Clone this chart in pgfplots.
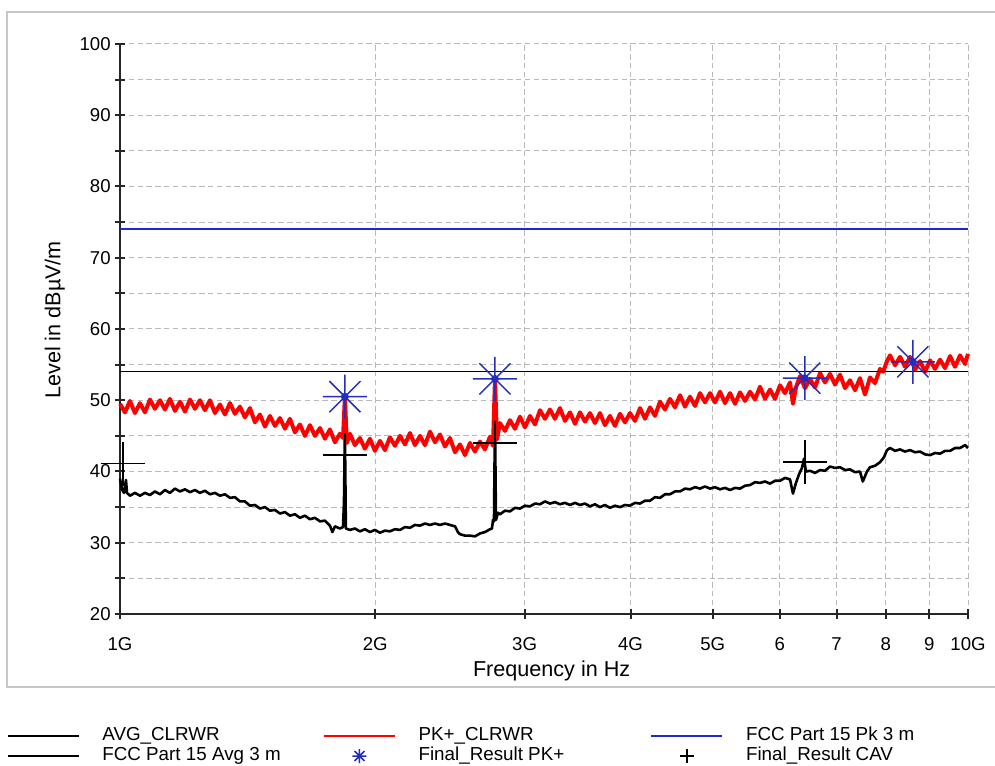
\documentclass[border=0pt]{standalone}
\usepackage{fontspec}
\setmainfont{Liberation Sans}
\usepackage{pgfplots}
\pgfplotsset{compat=1.18}
\definecolor{limblue}{RGB}{30,40,210}
\definecolor{mkblue}{RGB}{35,45,190}
\definecolor{gridgray}{RGB}{185,185,185}
\pgfdeclareplotmark{star8}{%
  \pgfpathmoveto{\pgfqpoint{0pt}{\pgfplotmarksize}}%
  \pgfpathlineto{\pgfqpoint{0pt}{-\pgfplotmarksize}}%
  \pgfpathmoveto{\pgfqpoint{\pgfplotmarksize}{0pt}}%
  \pgfpathlineto{\pgfqpoint{-\pgfplotmarksize}{0pt}}%
  \pgfpathmoveto{\pgfqpoint{0.7071\pgfplotmarksize}{0.7071\pgfplotmarksize}}%
  \pgfpathlineto{\pgfqpoint{-0.7071\pgfplotmarksize}{-0.7071\pgfplotmarksize}}%
  \pgfpathmoveto{\pgfqpoint{-0.7071\pgfplotmarksize}{0.7071\pgfplotmarksize}}%
  \pgfpathlineto{\pgfqpoint{0.7071\pgfplotmarksize}{-0.7071\pgfplotmarksize}}%
  \pgfusepathqstroke
  \pgfpathcircle{\pgfpointorigin}{0.18\pgfplotmarksize}%
  \pgfusepathqfill
}
\begin{document}
\begin{tikzpicture}[x=1pt,y=1pt]
\useasboundingbox (0,0) rectangle (497.5,382.5);
\draw[gray!45, line width=0.8pt] (500,39) -- (3.5,39) -- (3.5,376.5) -- (500,376.5);
\begin{axis}[
  at={(60pt,75.5pt)}, anchor=south west,
  scale only axis, width=424pt, height=285pt,
  xmode=log, log basis x=10,
  xmin=1, xmax=10, ymin=20, ymax=100,
  clip=false,
  xtick={1,2,3,4,5,6,7,8,9,10},
  xticklabels={1G,2G,3G,4G,5G,6,7,8,9,10G},
  minor xtick={},
  ytick={20,30,...,100},
  minor ytick={25,35,...,95},
  axis x line=bottom, axis y line=left,
  axis line style={-, line width=1pt, black!85},
  tick align=center, major tick length=5pt, minor tick length=5pt,
  every tick/.style={line width=1pt, black!85},
  grid=both,
  major grid style={dash pattern=on 2.7pt off 1.7pt, gridgray, line width=0.5pt},
  minor grid style={dash pattern=on 2.7pt off 1.7pt, gridgray, line width=0.5pt},
  /pgf/number format/assume math mode=true,
  ticklabel style={font=\fontsize{9.3}{11}\selectfont},
  yticklabel style={inner sep=0pt, xshift=-2pt},
  xticklabel style={inner sep=0pt, anchor=north, yshift=-9pt},
  xlabel={Frequency in Hz},
  ylabel={Level in dBµV/m},
  label style={font=\fontsize{10.8}{12}\selectfont},
  xlabel style={at={(axis description cs:0.509,-0.1)}, anchor=center},
  ylabel style={at={(axis description cs:-0.077,0.516)}, anchor=center},
  legend columns=3,
  legend cell align=left,
  legend style={at={(axis description cs:-0.1333,-0.1965)}, anchor=north west,
    draw=none, fill=none, inner sep=0pt, outer sep=0pt,
    font=\fontsize{9.4}{10}\selectfont,
    nodes={inner sep=0pt, text height=7pt, text depth=3pt},
    column sep=0pt, row sep=0pt,
    /tikz/every odd column/.append style={column sep=11.5pt}},
  legend image code/.code={\draw[mark repeat=2,mark phase=2,#1] plot coordinates {(0pt,0pt) (17.75pt,0pt) (35.5pt,0pt)};},
]
% AVG_CLRWR
\addplot[black, line width=1.3pt, line join=round, legend image post style={line width=0.6pt}] coordinates {
(1.0000,39.0) (1.0054,37.5) (1.0109,37.0) (1.0164,38.8) (1.0192,37.0)
(1.0275,36.6) (1.0415,37.0) (1.0558,36.6) (1.0702,37.0) (1.0848,36.7)
(1.0996,37.2) (1.1147,36.8) (1.1299,37.4) (1.1453,37.0) (1.1610,37.6)
(1.1769,37.2) (1.1930,37.5) (1.2093,37.1) (1.2258,37.4) (1.2425,37.0)
(1.2595,37.3) (1.2767,36.8) (1.2941,37.0) (1.3119,36.6) (1.3298,36.8)
(1.3480,36.3) (1.3664,36.4) (1.3851,35.8) (1.4040,35.8) (1.4232,35.2)
(1.4427,35.3) (1.4624,34.8) (1.4824,35.0) (1.5026,34.5) (1.5231,34.6)
(1.5440,34.1) (1.5651,34.3) (1.5865,33.8) (1.6082,34.0) (1.6302,33.5)
(1.6525,33.8) (1.6750,33.3) (1.6979,33.5) (1.7212,33.0) (1.7447,33.1)
(1.7685,32.4) (1.7805,31.5) (1.7927,32.3) (1.8172,32.0) (1.8325,32.2)
(1.8372,35.7) (1.8420,46.0) (1.8468,32.0) (1.8672,31.8) (1.8927,32.0)
(1.9186,31.6) (1.9448,31.9) (1.9715,31.5) (1.9984,31.8) (2.0257,31.4)
(2.0534,31.7) (2.0815,31.6) (2.1099,31.9) (2.1388,31.8) (2.1680,32.2)
(2.1977,32.1) (2.2277,32.5) (2.2582,32.4) (2.2891,32.7) (2.3204,32.5)
(2.3521,32.7) (2.3842,32.5) (2.4168,32.7) (2.4499,32.5) (2.4834,32.3)
(2.5031,31.5) (2.5173,31.2) (2.5517,31.0) (2.5866,31.0) (2.6219,30.9)
(2.6578,31.3) (2.6941,31.5) (2.7310,31.9) (2.7459,32.0) (2.7533,33.2)
(2.7608,33.0) (2.7683,47.5) (2.7758,33.2) (2.7910,34.2) (2.8062,34.0)
(2.8446,34.5) (2.8834,34.4) (2.9228,34.9) (2.9628,34.8) (3.0033,35.2)
(3.0444,35.1) (3.0860,35.5) (3.1282,35.4) (3.1710,35.8) (3.2143,35.5)
(3.2582,35.7) (3.3028,35.4) (3.3479,35.6) (3.3937,35.3) (3.4401,35.6)
(3.4871,35.3) (3.5348,35.5) (3.5831,35.1) (3.6321,35.4) (3.6818,35.0)
(3.7321,35.3) (3.7831,34.9) (3.8348,35.2) (3.8873,35.0) (3.9404,35.3)
(3.9943,35.2) (4.0489,35.6) (4.1042,35.5) (4.1603,35.9) (4.2172,35.9)
(4.2748,36.4) (4.3333,36.3) (4.3925,36.8) (4.4526,36.8) (4.5135,37.2)
(4.5752,37.2) (4.6377,37.6) (4.7011,37.5) (4.7654,37.8) (4.8305,37.6)
(4.8965,37.9) (4.9635,37.6) (5.0313,37.8) (5.1001,37.5) (5.1698,37.7)
(5.2405,37.4) (5.3121,37.7) (5.3848,37.6) (5.4584,38.0) (5.5330,38.1)
(5.6086,38.5) (5.6853,38.4) (5.7630,38.6) (5.8418,38.3) (5.9216,38.7)
(6.0026,38.7) (6.0846,39.1) (6.1679,38.9) (6.2178,36.9) (6.2686,38.4)
(6.3200,39.6) (6.3717,40.5) (6.4063,41.8) (6.4412,40.0) (6.5121,40.1)
(6.6011,39.8) (6.6914,40.2) (6.7828,40.1) (6.8756,40.7) (6.9696,40.5)
(7.0649,40.6) (7.1614,40.2) (7.2593,40.3) (7.3585,39.9) (7.4592,40.0)
(7.5161,38.6) (7.6023,40.0) (7.6645,40.6) (7.7692,40.8) (7.8755,41.3)
(7.9606,42.0) (8.0254,43.0) (8.0923,43.3) (8.2029,42.9) (8.3151,43.1)
(8.4287,42.8) (8.5440,43.0) (8.6608,42.7) (8.7792,42.8) (8.8992,42.4)
(9.0208,42.3) (9.1441,42.6) (9.2692,42.5) (9.3959,42.9) (9.5243,42.9)
(9.6544,43.3) (9.7865,43.3) (9.9202,43.7) (10.000,43.3)
};
\addlegendentry{\makebox[110.5pt][l]{AVG\_CLRWR}}
% PK+_CLRWR
\addplot[red, line width=2pt, line join=round, legend image post style={line width=0.6pt}] coordinates {
(1.0000,49.5) (1.0137,48.3) (1.0275,49.9) (1.0415,48.2) (1.0558,49.6)
(1.0702,48.3) (1.0848,50.1) (1.0996,48.8) (1.1147,50.0) (1.1299,48.7)
(1.1453,50.2) (1.1610,48.5) (1.1769,49.8) (1.1930,48.4) (1.2093,50.1)
(1.2258,48.8) (1.2425,50.0) (1.2595,48.6) (1.2767,50.0) (1.2941,48.2)
(1.3119,49.4) (1.3298,48.0) (1.3480,49.6) (1.3664,48.1) (1.3851,49.1)
(1.4040,47.6) (1.4232,48.9) (1.4427,46.9) (1.4624,48.0) (1.4824,46.3)
(1.5026,47.8) (1.5231,46.4) (1.5440,47.5) (1.5651,46.0) (1.5865,47.4)
(1.6082,45.5) (1.6302,46.6) (1.6525,45.0) (1.6750,46.5) (1.6979,45.0)
(1.7212,46.1) (1.7447,44.6) (1.7685,45.9) (1.7927,44.1) (1.8172,45.3)
(1.8325,44.7) (1.8420,50.5) (1.8517,44.0) (1.8672,45.3) (1.8927,43.7)
(1.9186,44.7) (1.9448,43.2) (1.9715,44.6) (1.9984,42.9) (2.0257,44.3)
(2.0534,43.0) (2.0815,44.8) (2.1099,43.6) (2.1388,45.0) (2.1680,43.8)
(2.1977,45.4) (2.2277,43.7) (2.2582,45.0) (2.2891,43.7) (2.3204,45.6)
(2.3521,44.1) (2.3842,45.2) (2.4168,43.5) (2.4499,44.7) (2.4834,42.7)
(2.5173,43.8) (2.5517,42.3) (2.5866,44.0) (2.6219,42.8) (2.6578,44.2)
(2.6941,43.1) (2.7310,44.9) (2.7533,43.6) (2.7683,53.0) (2.7834,44.5)
(2.8062,46.8) (2.8446,45.7) (2.8834,47.2) (2.9228,46.0) (2.9628,47.7)
(3.0033,46.2) (3.0444,47.8) (3.0860,46.6) (3.1282,48.6) (3.1710,47.4)
(3.2143,48.7) (3.2582,47.4) (3.3028,48.9) (3.3479,47.1) (3.3937,48.3)
(3.4401,46.7) (3.4871,48.3) (3.5348,47.0) (3.5831,48.2) (3.6321,46.8)
(3.6818,48.2) (3.7321,46.5) (3.7831,47.8) (3.8348,46.4) (3.8873,48.1)
(3.9404,46.9) (3.9943,48.2) (4.0489,47.1) (4.1042,48.9) (4.1603,47.4)
(4.2172,49.0) (4.2748,47.8) (4.3333,49.8) (4.3925,48.7) (4.4526,50.2)
(4.5135,49.0) (4.5752,50.7) (4.6377,49.1) (4.7011,50.5) (4.7654,49.2)
(4.8305,51.0) (4.8965,49.7) (4.9635,51.0) (5.0313,49.7) (5.1001,51.2)
(5.1698,49.6) (5.2405,51.0) (5.3121,49.5) (5.3848,51.1) (5.4584,49.9)
(5.5330,51.2) (5.6086,50.1) (5.6853,51.9) (5.7630,50.2) (5.8418,51.5)
(5.9216,50.2) (6.0026,52.1) (6.0846,51.0) (6.1679,52.5) (6.2178,49.5)
(6.2686,51.8) (6.3377,53.4) (6.4243,51.7) (6.5121,53.0) (6.6011,51.8)
(6.6914,53.8) (6.7828,52.5) (6.8756,53.7) (6.9696,52.2) (7.0649,53.6)
(7.1614,51.7) (7.2593,52.8) (7.3585,51.4) (7.4592,53.1) (7.5611,50.8)
(7.6645,53.2) (7.7692,52.4) (7.8755,54.4) (7.9450,54.0) (8.0254,55.5)
(8.0923,56.3) (8.2029,54.9) (8.3151,56.1) (8.4287,54.7) (8.5440,56.1)
(8.6608,54.3) (8.7792,55.5) (8.8992,54.0) (9.0208,55.6) (9.1441,54.4)
(9.2692,55.7) (9.3959,54.5) (9.5243,56.2) (9.6544,54.7) (9.7865,56.3)
(9.9202,55.1) (10.000,56.5)
};
\addlegendentry{\makebox[116pt][l]{PK+\_CLRWR}}
% FCC Part 15 Pk 3 m
\addplot[limblue, line width=0.75pt] coordinates {(1,74) (10,74)};
\addlegendentry{FCC Part 15 Pk 3 m}
% FCC Part 15 Avg 3 m
\addplot[black, line width=0.7pt] coordinates {(1,54) (10,54)};
\addlegendentry{FCC Part 15 Avg 3 m}
% Final_Result PK+
\addplot[only marks, mkblue, mark=star8, mark size=11pt, mark options={line width=0.75pt}, legend image post style={mark size=3.5pt}]
  coordinates {(1.842,50.5) (2.768,53.0) (6.42,53.1) (8.61,55.4)};
\addlegendentry{Final\_Result PK+}
% Final_Result CAV
\addplot[only marks, black, mark=+, mark size=11pt, mark options={line width=0.8pt}, legend image post style={mark size=3.5pt}]
  coordinates {(1.008,41.1) (1.842,42.3) (2.768,44.0) (6.42,41.3)};
\addlegendentry{Final\_Result CAV}
\end{axis}
\end{tikzpicture}
\end{document}
